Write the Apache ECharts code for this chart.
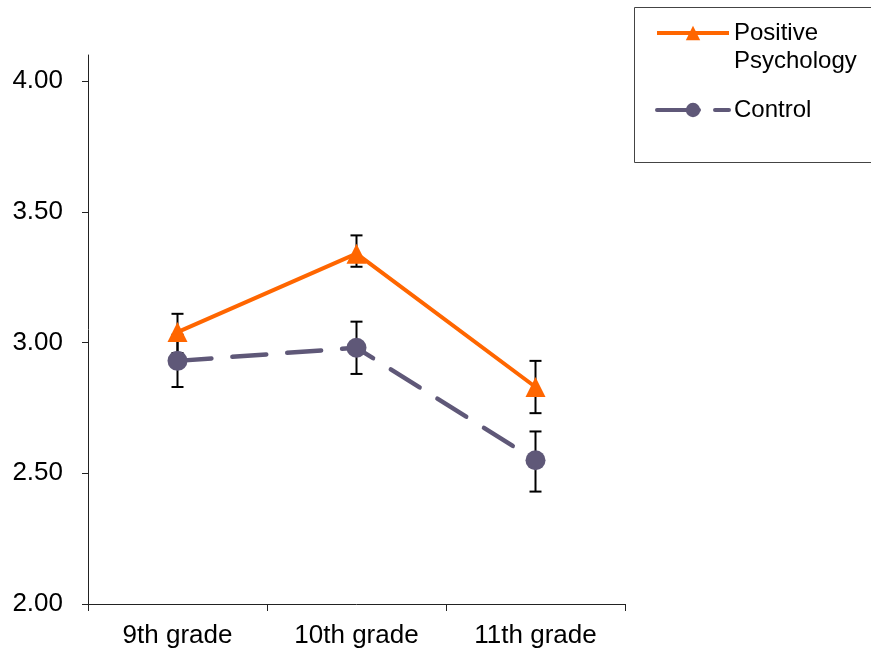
<!DOCTYPE html>
<html>
<head>
<meta charset="utf-8">
<script src="https://cdn.jsdelivr.net/npm/echarts@6/dist/echarts.min.js"></script>
<style>html,body{margin:0;padding:0;background:#fff}#c{width:871px;height:650px}</style>
</head>
<body>
<div id="c"></div>
<script>
const categories = ['9th grade', '10th grade', '11th grade'];
const positive = [3.04, 3.34, 2.83];
const positiveLow = [2.96, 3.29, 2.73];
const positiveHigh = [3.11, 3.41, 2.93];
const control = [2.93, 2.98, 2.55];
const controlLow = [2.83, 2.88, 2.43];
const controlHigh = [3.03, 3.08, 2.66];
const yTicks = [2, 2.5, 3, 3.5, 4];
const seriesNames = ['Positive Psychology', 'Control'];

const FONT = 'Liberation Sans, Arial, sans-serif';
const ORANGE = '#FF6600';
const PURPLE = '#5F5878';
const DASH = [34, 21];

function errData(lo, hi) { return categories.map((c, i) => [i, lo[i], hi[i]]); }
function renderErr(params, api) {
  const x = api.value(0);
  const lo = api.coord([x, api.value(1)]);
  const hi = api.coord([x, api.value(2)]);
  const w = 6;
  const st = { stroke: '#000', lineWidth: 2 };
  return {
    type: 'group',
    children: [
      { type: 'line', shape: { x1: lo[0], y1: lo[1], x2: hi[0], y2: hi[1] }, style: st },
      { type: 'line', shape: { x1: lo[0] - w, y1: lo[1], x2: lo[0] + w, y2: lo[1] }, style: st },
      { type: 'line', shape: { x1: hi[0] - w, y1: hi[1], x2: hi[0] + w, y2: hi[1] }, style: st }
    ]
  };
}

const chart = echarts.init(document.getElementById('c'));
chart.setOption({
  animation: false,
  backgroundColor: '#fff',
  textStyle: { fontFamily: FONT },
  grid: { left: 88, right: 246, top: 55, bottom: 46, containLabel: false },
  xAxis: {
    type: 'category',
    data: categories,
    boundaryGap: true,
    axisLine: { lineStyle: { color: '#222', width: 1 } },
    axisTick: { show: true, interval: 0, length: 7, lineStyle: { color: '#222' } },
    axisLabel: { fontSize: 26, color: '#000', margin: 19, fontFamily: FONT }
  },
  yAxis: {
    type: 'value',
    min: 2,
    max: 4.1,
    interval: 0.5,
    splitLine: { show: false },
    axisLine: { show: true, lineStyle: { color: '#222', width: 1 } },
    axisTick: { show: true, length: 6, customValues: yTicks, lineStyle: { color: '#222' } },
    axisLabel: { fontSize: 26, color: '#000', margin: 25, customValues: yTicks, fontFamily: FONT,
      formatter: v => v.toFixed(2) }
  },
  legend: {
    orient: 'vertical',
    left: 655,
    top: -9,
    padding: 0,
    itemGap: 21,
    itemWidth: 72,
    itemHeight: 18,
    textStyle: { fontSize: 24, color: '#000', fontFamily: FONT, lineHeight: 28 },
    formatter: name => name === 'Positive Psychology' ? '\nPositive\nPsychology' : name,
    data: [
      { name: seriesNames[0], lineStyle: { width: 4, color: ORANGE } },
      { name: seriesNames[1], lineStyle: { width: 4, color: PURPLE, type: [42, 16], cap: 'round' } }
    ]
  },
  graphic: [
    { type: 'rect', shape: { x: 634.5, y: 7.5, width: 245, height: 155 },
      style: { fill: 'none', stroke: '#444', lineWidth: 1 }, z: 0 }
  ],
  series: [
    { type: 'custom', name: 'errP', renderItem: renderErr, data: errData(positiveLow, positiveHigh), z: 1 },
    { type: 'custom', name: 'errC', renderItem: renderErr, data: errData(controlLow, controlHigh), z: 1 },
    {
      type: 'line', name: seriesNames[0], data: positive, z: 3,
      symbol: 'triangle', symbolSize: 20,
      itemStyle: { color: ORANGE },
      lineStyle: { color: ORANGE, width: 4 }
    },
    {
      type: 'line', name: seriesNames[1], data: control, z: 2,
      symbol: 'circle', symbolSize: 20,
      itemStyle: { color: PURPLE },
      lineStyle: { color: PURPLE, width: 4.5, type: DASH, cap: 'round' }
    }
  ]
});
</script>
</body>
</html>
